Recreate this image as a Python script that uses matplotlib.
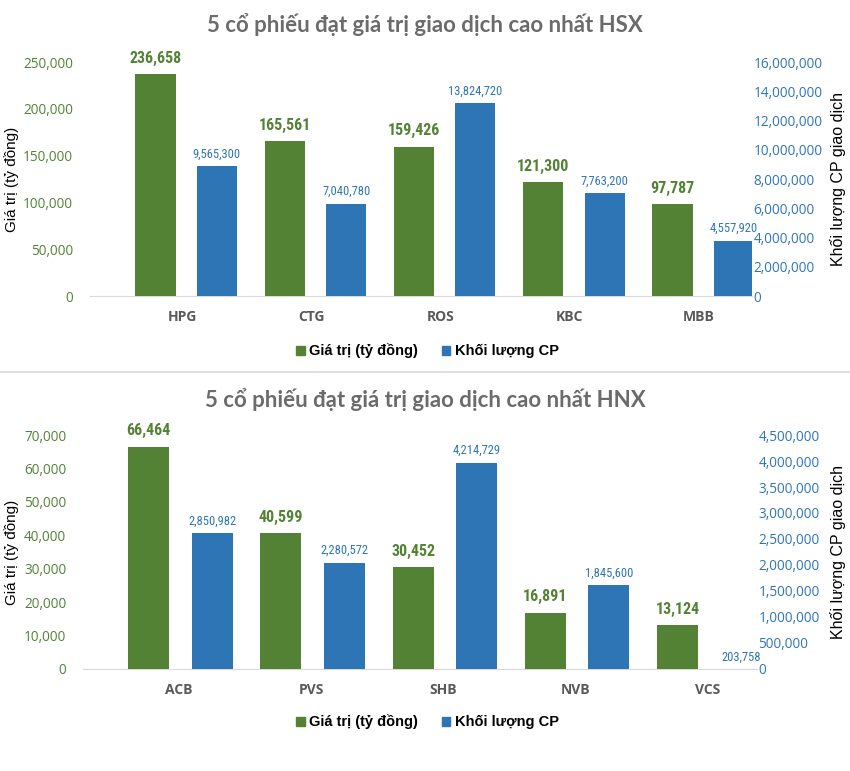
import matplotlib
matplotlib.use("Agg")
import matplotlib.pyplot as plt
from matplotlib import font_manager
from matplotlib.font_manager import FontProperties
from matplotlib.patches import Patch
from matplotlib.ticker import FuncFormatter, MultipleLocator
import numpy as np

# ---- data ----
hsx_tickers = ["HPG", "CTG", "ROS", "KBC", "MBB"]
hsx_value = [236658, 165561, 159426, 121300, 97787]
hsx_volume = [9565300, 7040780, 13824720, 7763200, 4557920]

hnx_tickers = ["ACB", "PVS", "SHB", "NVB", "VCS"]
hnx_value = [66464, 40599, 30452, 16891, 13124]
hnx_volume = [2850982, 2280572, 4214729, 1845600, 203758]

title_hsx = "5 cổ phiếu đạt giá trị giao dịch cao nhất HSX"
title_hnx = "5 cổ phiếu đạt giá trị giao dịch cao nhất HNX"
ylabel_left = "Giá trị (tỷ đồng)"
ylabel_right = "Khối lượng CP giao dịch"
legend_labels = ["Giá trị (tỷ đồng)", "Khối lượng CP"]

GREEN = "#548235"
BLUE = "#2e75b6"
GRAY_T = "#6b6b6b"


def find_narrow(bold):
    best = None
    for f in font_manager.fontManager.ttflist:
        n = f.name.lower()
        st = str(f.stretch).lower()
        fn = f.fname.lower()
        narrow = ("narrow" in n or "condensed" in n or "condensed" in st
                  or "condensed" in fn or "narrow" in fn)
        if not narrow or "mono" in n or "serif" in n:
            continue
        if "extra" in fn or "semi" in fn or "ultra" in fn:
            continue
        w = f.weight if isinstance(f.weight, int) else (700 if "bold" in str(f.weight) else 400)
        if bold and w < 600:
            continue
        if not bold and w != 400:
            continue
        if "italic" in f.style or "oblique" in f.style:
            continue
        rank = 0 if "liberation" in n else (1 if "roboto" in n else 2)
        if best is None or rank < best[0]:
            best = (rank, f.fname)
    return best[1] if best else None


nb = find_narrow(True)
nr = find_narrow(False)
NB = FontProperties(fname=nb) if nb else FontProperties(family="Roboto", weight="bold")
NR = FontProperties(fname=nr) if nr else FontProperties(family="Roboto")
TICKF = "Open Sans"
TITLEF = "Lato"
ARIAL = "Liberation Sans"

fig = plt.figure(figsize=(8.5, 7.71), dpi=100)

comma = FuncFormatter(lambda v, p: f"{v:,.0f}")


def panel(rect, tickers, vals, vols, ymax, ystep, bar2_lim, y2max, y2step, xlim, goff, boff,
          title, title_y, leg_y, ylab_x_left, ylab_x_right):
    ax = fig.add_axes(rect)
    ax2 = ax.twinx()   # blue bars (value scale as drawn in the reference)
    ax3 = ax.twinx()   # right-hand tick labels
    x = np.arange(len(tickers))
    w = 0.31
    b1 = ax.bar(x + goff, vals, w, color=GREEN, zorder=3)
    b2 = ax2.bar(x + boff, vols, w, color=BLUE, zorder=3)
    ax.set_xlim(*xlim)
    ax.set_ylim(0, ymax)
    ax2.set_ylim(*bar2_lim)
    ax3.set_ylim(0, y2max)
    ax2.set_yticks([])
    ax.yaxis.set_major_locator(MultipleLocator(ystep))
    ax3.yaxis.set_major_locator(MultipleLocator(y2step))
    ax.yaxis.set_major_formatter(comma)
    ax3.yaxis.set_major_formatter(comma)
    ax.set_xticks(x)
    ax.set_xticklabels(tickers, fontfamily=TICKF, fontweight="bold", fontsize=10, color="#595959")
    for a in (ax, ax2, ax3):
        for s in a.spines.values():
            s.set_visible(False)
        a.tick_params(length=0)
    ax.spines["bottom"].set_visible(True)
    ax.spines["bottom"].set_color("#d9d9d9")
    ax.tick_params(axis="x", pad=10)
    ax.tick_params(axis="y", pad=12, labelcolor=GREEN, labelsize=9.8)
    ax3.tick_params(axis="y", pad=1, labelcolor=BLUE, labelsize=9.8)
    for lab in ax.get_yticklabels() + ax3.get_yticklabels():
        lab.set_fontfamily(TICKF)
    fb = NB.copy(); fb.set_size(11.5)
    fr = NR.copy(); fr.set_size(9)
    ax.bar_label(b1, labels=[f"{v:,}" for v in vals], padding=6, color=GREEN, fontproperties=fb)
    ax2.bar_label(b2, labels=[f"{v:,}" for v in vols], padding=4, color=BLUE, fontproperties=fr,
                  annotation_clip=False)
    yc = rect[1] + rect[3] / 2
    fig.text(ylab_x_left, yc, ylabel_left, rotation=90, ha="center", va="center",
             fontfamily=ARIAL, fontsize=11, color="black")
    fig.text(ylab_x_right, yc, ylabel_right, rotation=90, ha="center", va="center",
             fontfamily=ARIAL, fontsize=11.5, color="black")
    fig.text(0.5, title_y, title, ha="center", va="center", fontfamily=TITLEF,
             fontweight="bold", fontsize=16, color=GRAY_T)
    handles = [Patch(color=GREEN), Patch(color=BLUE)]
    fig.legend(handles, legend_labels, loc="center", bbox_to_anchor=(0.503, leg_y), ncol=2,
               frameon=False, handlelength=0.6, handleheight=0.6, handletextpad=0.3,
               columnspacing=1.6, prop={"family": ARIAL, "weight": "bold", "size": 10.5})


panel([90 / 850, 1 - 296 / 771, 662 / 850, 234 / 771], hsx_tickers, hsx_value, hsx_volume,
      250000, 50000, (0.823e6, 16.6e6), 16000000, 2000000, (-0.712, 4.41), -0.205, 0.27,
      title_hsx, 1 - 25 / 771, 1 - 351 / 771, 12 / 850, 838 / 850)

panel([83 / 850, 1 - 669 / 771, 674 / 850, 234 / 771], hnx_tickers, hnx_value, hnx_volume,
      70000, 10000, (0.2166e6, 4.752e6), 4500000, 500000, (-0.726, 4.37), -0.23, 0.25,
      title_hnx, 1 - 400 / 771, 1 - 722 / 771, 12 / 850, 838 / 850)

fig.add_artist(plt.Line2D([0, 1], [1 - 372 / 771] * 2, color="#d9d9d9", lw=1.2,
                          transform=fig.transFigure))

fig.savefig("out.png", dpi=100)
